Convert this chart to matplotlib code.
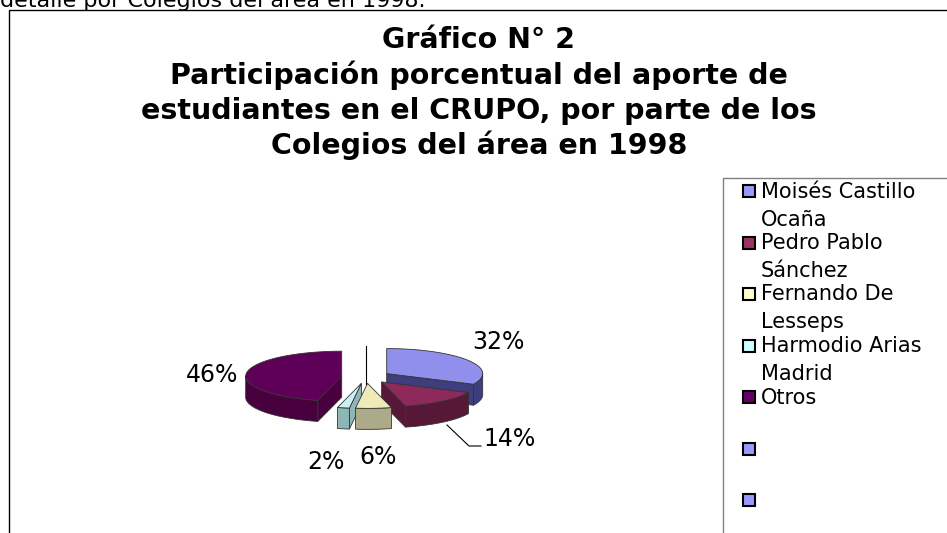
import numpy as np
import matplotlib.pyplot as plt
from matplotlib.patches import Polygon, Rectangle

plt.rcParams['font.family'] = ['DejaVu Sans']

# datos del grafico
colegios = ["Moisés Castillo Ocaña", "Pedro Pablo Sánchez", "Fernando De Lesseps",
            "Harmodio Arias Madrid", "Otros"]
porcentajes = [32, 14, 6, 2, 46]
etiquetas = ["32%", "14%", "6%", "2%", "46%"]
leyenda = ["Moisés Castillo\nOcaña", "Pedro Pablo\nSánchez", "Fernando De\nLesseps",
           "Harmodio Arias\nMadrid", "Otros", "", ""]

color_tapa = ["#9090EC", "#8E2A5B", "#EEEBB9", "#C9F1F1", "#5E0058"]
color_lado = ["#3E3E7E", "#561836", "#ADAA87", "#8DB6B6", "#48003F"]
color_leyenda = ["#9999FF", "#993366", "#FFFFCC", "#CCFFFF", "#660066", "#9999FF", "#9999FF"]

# geometria del pastel 3D (pixeles)
cx, cy = 366, 377
rx, ry = 96, 25
prof = 21
sep = 24.5

fig = plt.figure(figsize=(9.47, 5.33), dpi=100)
ax = fig.add_axes([0, 0, 1, 1])
ax.set_xlim(0, 947)
ax.set_ylim(533, 0)
ax.axis("off")

# texto cortado arriba y borde del grafico
ax.text(0, 7, "detalle por Colegios del área en 1998.", fontsize=16, va="baseline", ha="left")
ax.add_patch(Rectangle((8.5, 9.5), 960, 540, fill=False, edgecolor="black", lw=1))

titulo = ["Gráfico N° 2", "Participación porcentual del aporte de",
          "estudiantes en el CRUPO, por parte de los", "Colegios del área en 1998"]
for i, linea in enumerate(titulo):
    ax.text(479, 48 + 35.5 * i, linea, fontsize=20.5, fontweight="bold", ha="center", va="baseline")


def arco(ox, oy, a, b, n=60):
    t = np.radians(np.linspace(a, b, n))
    return np.column_stack([ox + rx * np.sin(t), oy - ry * np.cos(t)])


ec = "#333333"
rebanadas = []
inicio = 0.0
for p, ct, cl in zip(porcentajes, color_tapa, color_lado):
    a = inicio
    b = inicio + p * 3.6
    mid = np.radians((a + b) / 2)
    ox = cx + sep * np.sin(mid)
    oy = cy - sep * np.cos(mid) * ry / rx
    rebanadas.append((oy, ox, a, b, ct, cl))
    inicio = b

for oy, ox, a, b, ct, cl in sorted(rebanadas):
    # caras radiales visibles
    for ang, vis in ((a, np.sin(np.radians(a)) < -1e-6), (b, np.sin(np.radians(b)) > 1e-6)):
        if vis:
            px = ox + rx * np.sin(np.radians(ang))
            py = oy - ry * np.cos(np.radians(ang))
            ax.add_patch(Polygon([(ox, oy), (px, py), (px, py + prof), (ox, oy + prof)],
                                 closed=True, facecolor=cl, edgecolor=ec, lw=0.6))
    # borde frontal
    lo, hi = max(a, 90), min(b, 270)
    if hi > lo:
        top = arco(ox, oy, lo, hi)
        bot = top[::-1] + [0, prof]
        ax.add_patch(Polygon(np.vstack([top, bot]), closed=True, facecolor=cl,
                             edgecolor=ec, lw=0.6))
    # tapa
    pts = np.vstack([[ox, oy], arco(ox, oy, a, b)])
    ax.add_patch(Polygon(pts, closed=True, facecolor=ct, edgecolor=ec, lw=0.6))

# lineas guia
ax.plot([366, 366], [346, 384], color="black", lw=0.8)
ax.plot([447, 469, 481], [425, 446, 446], color="black", lw=0.8)

pos_etiquetas = [(498, 342), (510, 439), (378, 457), (326, 462), (212, 375)]
for txt, (x, y) in zip(etiquetas, pos_etiquetas):
    ax.text(x, y, txt, fontsize=17, ha="center", va="center")

# leyenda
ax.add_patch(Rectangle((722.5, 177.5), 300, 400, fill=False, edgecolor="#808080", lw=1))
for i, (lab, col) in enumerate(zip(leyenda, color_leyenda)):
    y0 = 185 + 51.5 * i
    ax.add_patch(Rectangle((743, y0), 12, 12, facecolor=col, edgecolor="black", lw=1.5))
    for j, parte in enumerate(lab.split("\n")):
        ax.text(761, y0 + 12.5 + 28 * j, parte, fontsize=15, ha="left", va="baseline")

plt.savefig("out.png", dpi=100)
